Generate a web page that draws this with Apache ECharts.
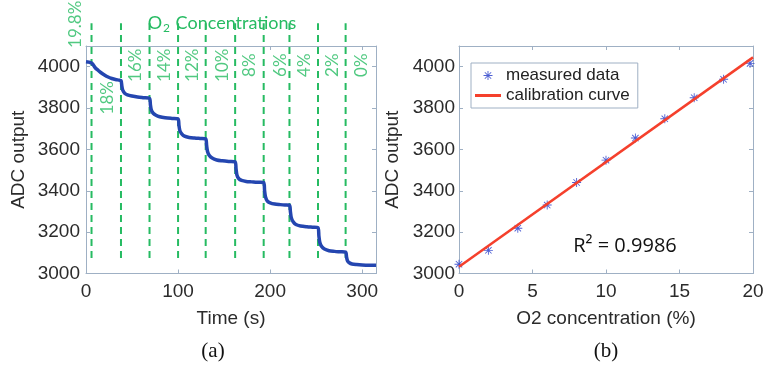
<!DOCTYPE html>
<html>
<head>
<meta charset="utf-8">
<script src="https://cdn.jsdelivr.net/npm/echarts@6/dist/echarts.min.js"></script>
<style>
html,body{margin:0;padding:0;background:#fff;}
#c{width:768px;height:371px;}
</style>
</head>
<body>
<div id="c"></div>
<script>
// ---- Panel (a): ADC output vs time ----
var timeS = [0,3,6,8,10,13,16,20,24,28,32,36,38,
  39,40,42,45,50,56,62,69,
  70,71,73,76,80,86,93,100,
  101,102,104,107,112,118,124,130,
  131,132,134,137,142,148,155,162,
  163,164,166,169,174,180,186,193,
  194,195,197,200,205,211,216,221,
  222,223,225,228,233,240,246,252,
  253,254,256,259,264,270,276,282,
  283,284,286,289,294,300,307,315];
var adcOut = [4024,4022,4018,4008,3995,3983,3972,3960,3950,3943,3938,3935,3933,
  3905,3885,3872,3864,3858,3853,3850,3847,
  3815,3790,3775,3765,3758,3753,3750,3748,
  3715,3690,3675,3664,3658,3655,3653,3651,
  3620,3590,3570,3558,3549,3545,3542,3540,
  3505,3475,3458,3450,3445,3443,3441,3440,
  3400,3370,3350,3342,3336,3333,3331,3330,
  3300,3270,3250,3237,3230,3226,3224,3222,
  3180,3150,3130,3118,3110,3107,3105,3103,
  3080,3062,3052,3046,3043,3041,3040,3040];
// switching instants (dashed lines)
var switchT = [6,38,69,100,130,162,193,221,252,282];
var dashLow = 3075, dashHigh = 4210;
// concentration labels
var concLabels = ['19.8%','18%','16%','14%','12%','10%','8%','6%','4%','2%','0%'];
var concLabelT = [-11,23,54,85,116,148,178,211,237,268,299];
var concLabelY = [4205,3850,4007,4007,4007,4007,4007,4007,4007,4007,4007];

// ---- Panel (b): calibration ----
var o2Pct = [0,2,4,6,8,10,12,14,16,18,19.8];
var adcMeasured = [3045,3112,3219,3331,3440,3548,3655,3748,3850,3939,4016];
var fitX = [0,20];
var fitY = [3033,4045];
var r2Text = 'R\u00b2 = 0.9986';

var axisCol = '#9fb0c4';
var green = '#26bb62';
var blue = '#2446b0';
var red = '#f5402c';
var star = 'path://M4.5,0h1v10h-1z M0,4.5h10v1h-10z M1.1,1.8l0.7,-0.7l7.1,7.1l-0.7,0.7z M8.2,1.1l0.7,0.7l-7.1,7.1l-0.7,-0.7z';

function fmtEvery(step){ return function(v){ return (Math.abs(v/step - Math.round(v/step))<1e-6) ? String(v) : ''; }; }

var labelFont = {fontFamily:'"Liberation Sans", Arial', fontSize:19, color:'#2b2b2b'};

function mainX(grid, min, max, interval, name){
  return {type:'value', gridIndex:grid, min:min, max:max, interval:interval, position:'bottom',
    name:name, nameLocation:'middle', nameGap:36, nameTextStyle:{fontFamily:'"Liberation Sans", Arial', fontSize:19, color:'#2b2b2b'},
    axisLine:{show:true, onZero:false, lineStyle:{color:axisCol, width:1}},
    axisTick:{show:true, inside:true, length:4, lineStyle:{color:axisCol}},
    axisLabel:Object.assign({margin:9, formatter:fmtEvery(interval)}, labelFont),
    splitLine:{show:false}};
}
function mirrorX(grid, min, max, interval){
  return {type:'value', gridIndex:grid, min:min, max:max, interval:interval, position:'top',
    axisLine:{show:true, onZero:false, lineStyle:{color:axisCol, width:1}},
    axisTick:{show:true, inside:true, length:4, lineStyle:{color:axisCol}},
    axisLabel:{show:false}, splitLine:{show:false}};
}
function mainY(grid, nameGap, margin){
  return {type:'value', gridIndex:grid, min:3000, max:4100, interval:200, position:'left',
    name:'ADC output', nameLocation:'middle', nameGap:nameGap, nameTextStyle:{fontFamily:'"Liberation Sans", Arial', fontSize:19, color:'#2b2b2b'},
    axisLine:{show:true, onZero:false, lineStyle:{color:axisCol, width:1}},
    axisTick:{show:true, inside:true, length:4, lineStyle:{color:axisCol}},
    axisLabel:Object.assign({margin:margin, formatter:fmtEvery(200)}, labelFont),
    splitLine:{show:false}};
}
function mirrorY(grid){
  return {type:'value', gridIndex:grid, min:3000, max:4100, interval:200, position:'right',
    axisLine:{show:true, onZero:false, lineStyle:{color:axisCol, width:1}},
    axisTick:{show:true, inside:true, length:4, lineStyle:{color:axisCol}},
    axisLabel:{show:false}, splitLine:{show:false}};
}

var series = [];
// dashed switching lines
switchT.forEach(function(t){
  series.push({type:'line', xAxisIndex:0, yAxisIndex:0, data:[[t,dashLow],[t,dashHigh]],
    symbol:'none', clip:false, silent:true, z:1,
    lineStyle:{color:green, width:2, type:[7,5]}});
});
// concentration labels
series.push({type:'scatter', xAxisIndex:0, yAxisIndex:0, symbolSize:0, clip:false, silent:true, z:3,
  data: concLabels.map(function(l,i){ return {name:l, value:[concLabelT[i], concLabelY[i]]}; }),
  label:{show:true, position:'inside', rotate:90, formatter:'{b}', color:green,
    fontFamily:'Lato, "Open Sans"', fontSize:17}});
// ADC curve
series.push({type:'line', xAxisIndex:0, yAxisIndex:0, name:'adc',
  data: timeS.map(function(t,i){ return [t, adcOut[i]]; }),
  symbol:'none', smooth:0.3, z:4,
  lineStyle:{color:blue, width:3.5}});
// measured data
series.push({type:'scatter', xAxisIndex:2, yAxisIndex:2, name:'measured data',
  data: o2Pct.map(function(x,i){ return [x, adcMeasured[i]]; }),
  symbol:star, symbolSize:9, symbolKeepAspect:true, clip:false, z:3,
  itemStyle:{color:'#2238c8'}});
// calibration curve
series.push({type:'line', xAxisIndex:2, yAxisIndex:2, name:'calibration curve',
  data: fitX.map(function(x,i){ return [x, fitY[i]]; }),
  symbol:'none', clip:false, z:4,
  itemStyle:{color:red},
  lineStyle:{color:red, width:2.5}});

var chart = echarts.init(document.getElementById('c'), null, {renderer:'canvas'});
chart.setOption({
  animation:false,
  backgroundColor:'#fff',
  grid:[
    {left:86, top:46, width:290, height:227.5, containLabel:false},
    {left:459, top:46, width:294, height:227.5, containLabel:false}
  ],
  xAxis:[
    mainX(0, 0, 315, 100, 'Time (s)'),
    mirrorX(0, 0, 315, 100),
    mainX(1, 0, 20, 5, 'O2 concentration (%)'),
    mirrorX(1, 0, 20, 5)
  ],
  yAxis:[
    mainY(0, 58, 6),
    mirrorY(0),
    mainY(1, 57, 4),
    mirrorY(1)
  ],
  legend:{
    data:[{name:'measured data'},{name:'calibration curve', icon:'path://M0,0h26v3h-26z'}],
    orient:'vertical', left:471, top:63,
    borderColor:axisCol, borderWidth:1, padding:[4,8,4,4],
    itemGap:3, itemWidth:26, itemHeight:9,
    textStyle:{fontFamily:'"Liberation Sans", Arial', fontSize:17, color:'#222'},
    selectedMode:false
  },
  graphic:[
    {type:'text', x:222, y:23, style:{
      text:'{a|O}{s|2}{a| Concentrations}', align:'center', verticalAlign:'middle',
      rich:{a:{fontFamily:'Lato, "Open Sans"', fontSize:18, lineHeight:22, verticalAlign:'middle', fill:green, color:green},
            s:{fontFamily:'Lato, "Open Sans"', fontSize:12, lineHeight:22, verticalAlign:'bottom', fill:green, color:green, padding:[0,1,0,1]}}}},
    {type:'text', x:625, y:246, style:{text:r2Text, align:'center', verticalAlign:'middle',
      font:'20px "Open Sans"', fill:'#111'}},
    {type:'text', x:213, y:351, style:{text:'(a)', align:'center', verticalAlign:'middle',
      font:'21px "Liberation Serif"', fill:'#111'}},
    {type:'text', x:606, y:351, style:{text:'(b)', align:'center', verticalAlign:'middle',
      font:'21px "Liberation Serif"', fill:'#111'}}
  ],
  series:series
});
</script>
</body>
</html>
